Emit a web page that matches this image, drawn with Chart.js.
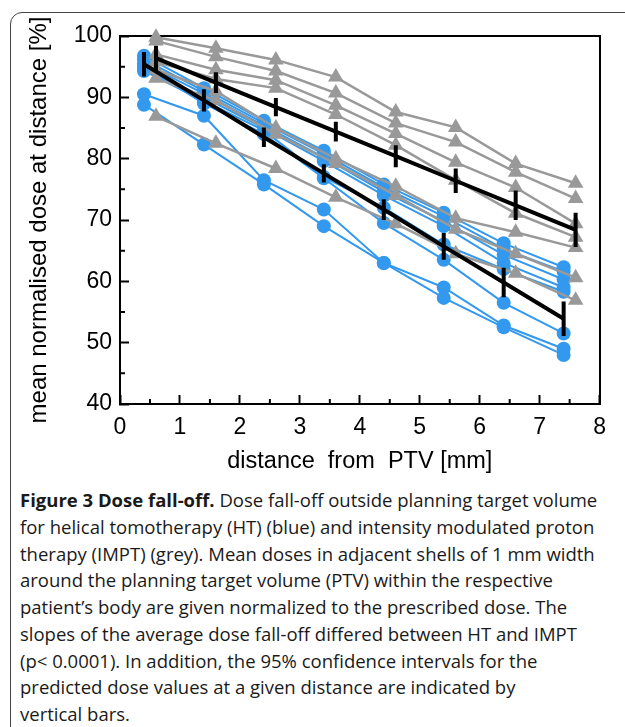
<!DOCTYPE html>
<html>
<head>
<meta charset="utf-8">
<script src="https://cdn.jsdelivr.net/npm/chart.js@4.4.0/dist/chart.umd.min.js"></script>
<style>
html, body { margin: 0; padding: 0; background: #fff; }
body { width: 625px; height: 727px; overflow: hidden; position: relative; }
#frame { position: absolute; left: 10px; top: 12px; width: 640px; height: 740px; border: 1px solid #444; border-radius: 12px; }
#chart { position: absolute; left: 0; top: 0; }
#caption { position: absolute; left: 20px; top: 487px; font-family: "Open Sans", sans-serif; font-size: 18.5px; line-height: 26.75px; color: #1a1a1a; white-space: nowrap; }
</style>
</head>
<body>
<div id="frame"></div>
<canvas id="chart" width="625" height="480"></canvas>
<div id="caption">
<b>Figure 3 Dose fall-off.</b> Dose fall-off outside planning target volume<br>
for helical tomotherapy (HT) (blue) and intensity modulated proton<br>
therapy (IMPT) (grey). Mean doses in adjacent shells of 1 mm width<br>
around the planning target volume (PTV) within the respective<br>
patient’s body are given normalized to the prescribed dose. The<br>
slopes of the average dose fall-off differed between HT and IMPT<br>
(p&lt; 0.0001). In addition, the 95% confidence intervals for the<br>
predicted dose values at a given distance are indicated by<br>
vertical bars.
</div>
<script>
// distances (mm) - HT points sit at .4, IMPT at .6
var htX = [0.4, 1.4, 2.4, 3.4, 4.4, 5.4, 6.4, 7.4];
var imptX = [0.6, 1.6, 2.6, 3.6, 4.6, 5.6, 6.6, 7.6];

// per patient mean dose (%)
var htPatients = [
    [96.8, 91.5, 86.2, 81.3, 75.8, 71.2, 66.2, 62.3],
    [96.2, 91.0, 85.8, 80.8, 75.3, 70.6, 65.3, 61.6],
    [95.5, 90.6, 85.4, 80.2, 74.6, 69.8, 64.3, 60.3],
    [94.8, 90.0, 85.0, 79.6, 74.0, 69.0, 63.0, 59.0],
    [94.3, 89.4, 84.6, 77.0, 72.0, 66.0, 62.0, 58.3],
    [95.0, 89.0, 84.0, 76.8, 69.5, 63.5, 56.5, 51.5],
    [90.5, 87.0, 76.5, 71.7, 63.0, 59.0, 52.8, 49.0],
    [88.8, 82.3, 75.8, 69.0, 63.0, 57.3, 52.5, 48.0]
];
var imptPatients = [
    [99.8, 98.0, 96.1, 93.3, 87.6, 85.1, 79.2, 76.0],
    [99.2, 96.6, 94.3, 90.7, 85.8, 82.7, 77.8, 73.5],
    [97.0, 94.5, 92.8, 88.7, 84.1, 79.4, 75.3, 69.4],
    [95.8, 93.0, 91.5, 87.2, 82.2, 76.5, 71.1, 67.2],
    [94.5, 91.0, 85.0, 80.0, 75.5, 70.3, 68.0, 65.5],
    [93.1, 89.5, 84.0, 79.2, 74.0, 68.5, 64.5, 60.6],
    [86.9, 82.5, 78.4, 73.7, 69.4, 64.5, 61.3, 56.9]
];

// average fall-off and 95% CI half widths
var htMean = [95.4, 89.5, 83.5, 77.6, 71.7, 65.7, 59.8, 53.9];
var htCI = [2.0, 1.8, 1.6, 1.5, 1.7, 2.2, 2.4, 2.8];
var imptMean = [96.4, 92.4, 88.4, 84.4, 80.4, 76.4, 72.4, 68.4];
var imptCI = [2.0, 1.7, 1.5, 1.6, 1.8, 2.0, 2.4, 2.8];

var xTicks = [0, 1, 2, 3, 4, 5, 6, 7, 8];
var yTicks = [40, 50, 60, 70, 80, 90, 100];

var blue = '#3399ee';
var grey = '#999999';

function pts(xs, ys) {
    return xs.map(function (x, i) { return { x: x, y: ys[i] }; });
}
function bars(xs, m, ci) {
    var out = [];
    xs.forEach(function (x, i) {
        out.push({ x: x, y: m[i] - ci[i] });
        out.push({ x: x, y: m[i] + ci[i] });
        out.push({ x: x, y: null });
    });
    return out;
}

var datasets = [];
htPatients.forEach(function (p) {
    datasets.push({
        data: pts(htX, p), showLine: true, order: 3,
        borderColor: blue, backgroundColor: blue, borderWidth: 2,
        pointStyle: 'circle', pointRadius: 7, pointBorderWidth: 0, clip: 12
    });
});
imptPatients.forEach(function (p) {
    datasets.push({
        data: pts(imptX, p), showLine: true, order: 2,
        borderColor: grey, backgroundColor: grey, borderWidth: 2.5,
        pointStyle: 'triangle', pointRadius: 9, pointBorderWidth: 0, clip: 12
    });
});
datasets.push({ data: pts(htX, htMean), showLine: true, order: 1, borderColor: '#000', borderWidth: 4, pointRadius: 0 });
datasets.push({ data: pts(imptX, imptMean), showLine: true, order: 1, borderColor: '#000', borderWidth: 4, pointRadius: 0 });
datasets.push({ data: bars(htX, htMean, htCI), showLine: true, spanGaps: false, order: 0, borderColor: '#000', borderWidth: 4, pointRadius: 0, clip: 12 });
datasets.push({ data: bars(imptX, imptMean, imptCI), showLine: true, spanGaps: false, order: 0, borderColor: '#000', borderWidth: 4, pointRadius: 0, clip: 12 });

// small minor ticks at the half steps, pointing into the plot
var minorTicks = {
    id: 'minorTicks',
    afterDraw: function (chart) {
        var c = chart.ctx, xs = chart.scales.x, ys = chart.scales.y, a = chart.chartArea;
        c.save();
        c.strokeStyle = '#000';
        c.lineWidth = 2;
        c.beginPath();
        for (var i = 0; i < xTicks.length - 1; i++) {
            var px = xs.getPixelForValue(xTicks[i] + 0.5);
            c.moveTo(px, a.bottom);
            c.lineTo(px, a.bottom - 5);
        }
        for (var j = 0; j < yTicks.length - 1; j++) {
            var py = ys.getPixelForValue(yTicks[j] + 5);
            c.moveTo(a.left, py);
            c.lineTo(a.left + 5, py);
        }
        c.stroke();
        c.restore();
    }
};

var tickFont = { family: 'Liberation Sans', size: 23 };

new Chart(document.getElementById('chart'), {
    type: 'scatter',
    data: { datasets: datasets },
    plugins: [minorTicks],
    options: {
        responsive: false,
        animation: false,
        layout: { padding: { top: 36, right: 25, left: 0, bottom: 0 } },
        plugins: { legend: { display: false }, tooltip: { enabled: false } },
        scales: {
            x: {
                type: 'linear', position: 'bottom', min: 0, max: 8,
                afterBuildTicks: function (s) { s.ticks = xTicks.map(function (v) { return { value: v }; }); },
                ticks: { font: tickFont, color: '#000', padding: 19, maxRotation: 0 },
                grid: { drawOnChartArea: false, tickLength: -9, tickColor: '#000', tickWidth: 2 },
                border: { color: '#000', width: 2 },
                title: { display: true, text: 'distance  from  PTV [mm]', color: '#000', font: { family: 'Liberation Sans', size: 23.5 }, padding: { top: 0, bottom: 4 } },
                afterFit: function (s) { s.height = 76; }
            },
            y: {
                type: 'linear', position: 'left', min: 40, max: 100,
                afterBuildTicks: function (s) { s.ticks = yTicks.map(function (v) { return { value: v }; }); },
                ticks: { font: tickFont, color: '#000', padding: 17 },
                grid: { drawOnChartArea: false, tickLength: -9, tickColor: '#000', tickWidth: 2 },
                border: { color: '#000', width: 2 },
                title: { display: true, text: 'mean normalised dose at distance [%]', color: '#000', font: { family: 'Liberation Sans', size: 24 }, padding: { top: 25, bottom: 0 } },
                afterFit: function (s) { s.width = 120; }
            },
            xTop: {
                type: 'linear', position: 'top', min: 0, max: 8,
                ticks: { display: false }, grid: { display: false },
                border: { color: '#000', width: 2 },
                afterFit: function (s) { s.height = 0; }
            },
            yRight: {
                type: 'linear', position: 'right', min: 40, max: 100,
                ticks: { display: false }, grid: { display: false },
                border: { color: '#000', width: 2 },
                afterFit: function (s) { s.width = 0; }
            }
        }
    }
});
</script>
</body>
</html>
